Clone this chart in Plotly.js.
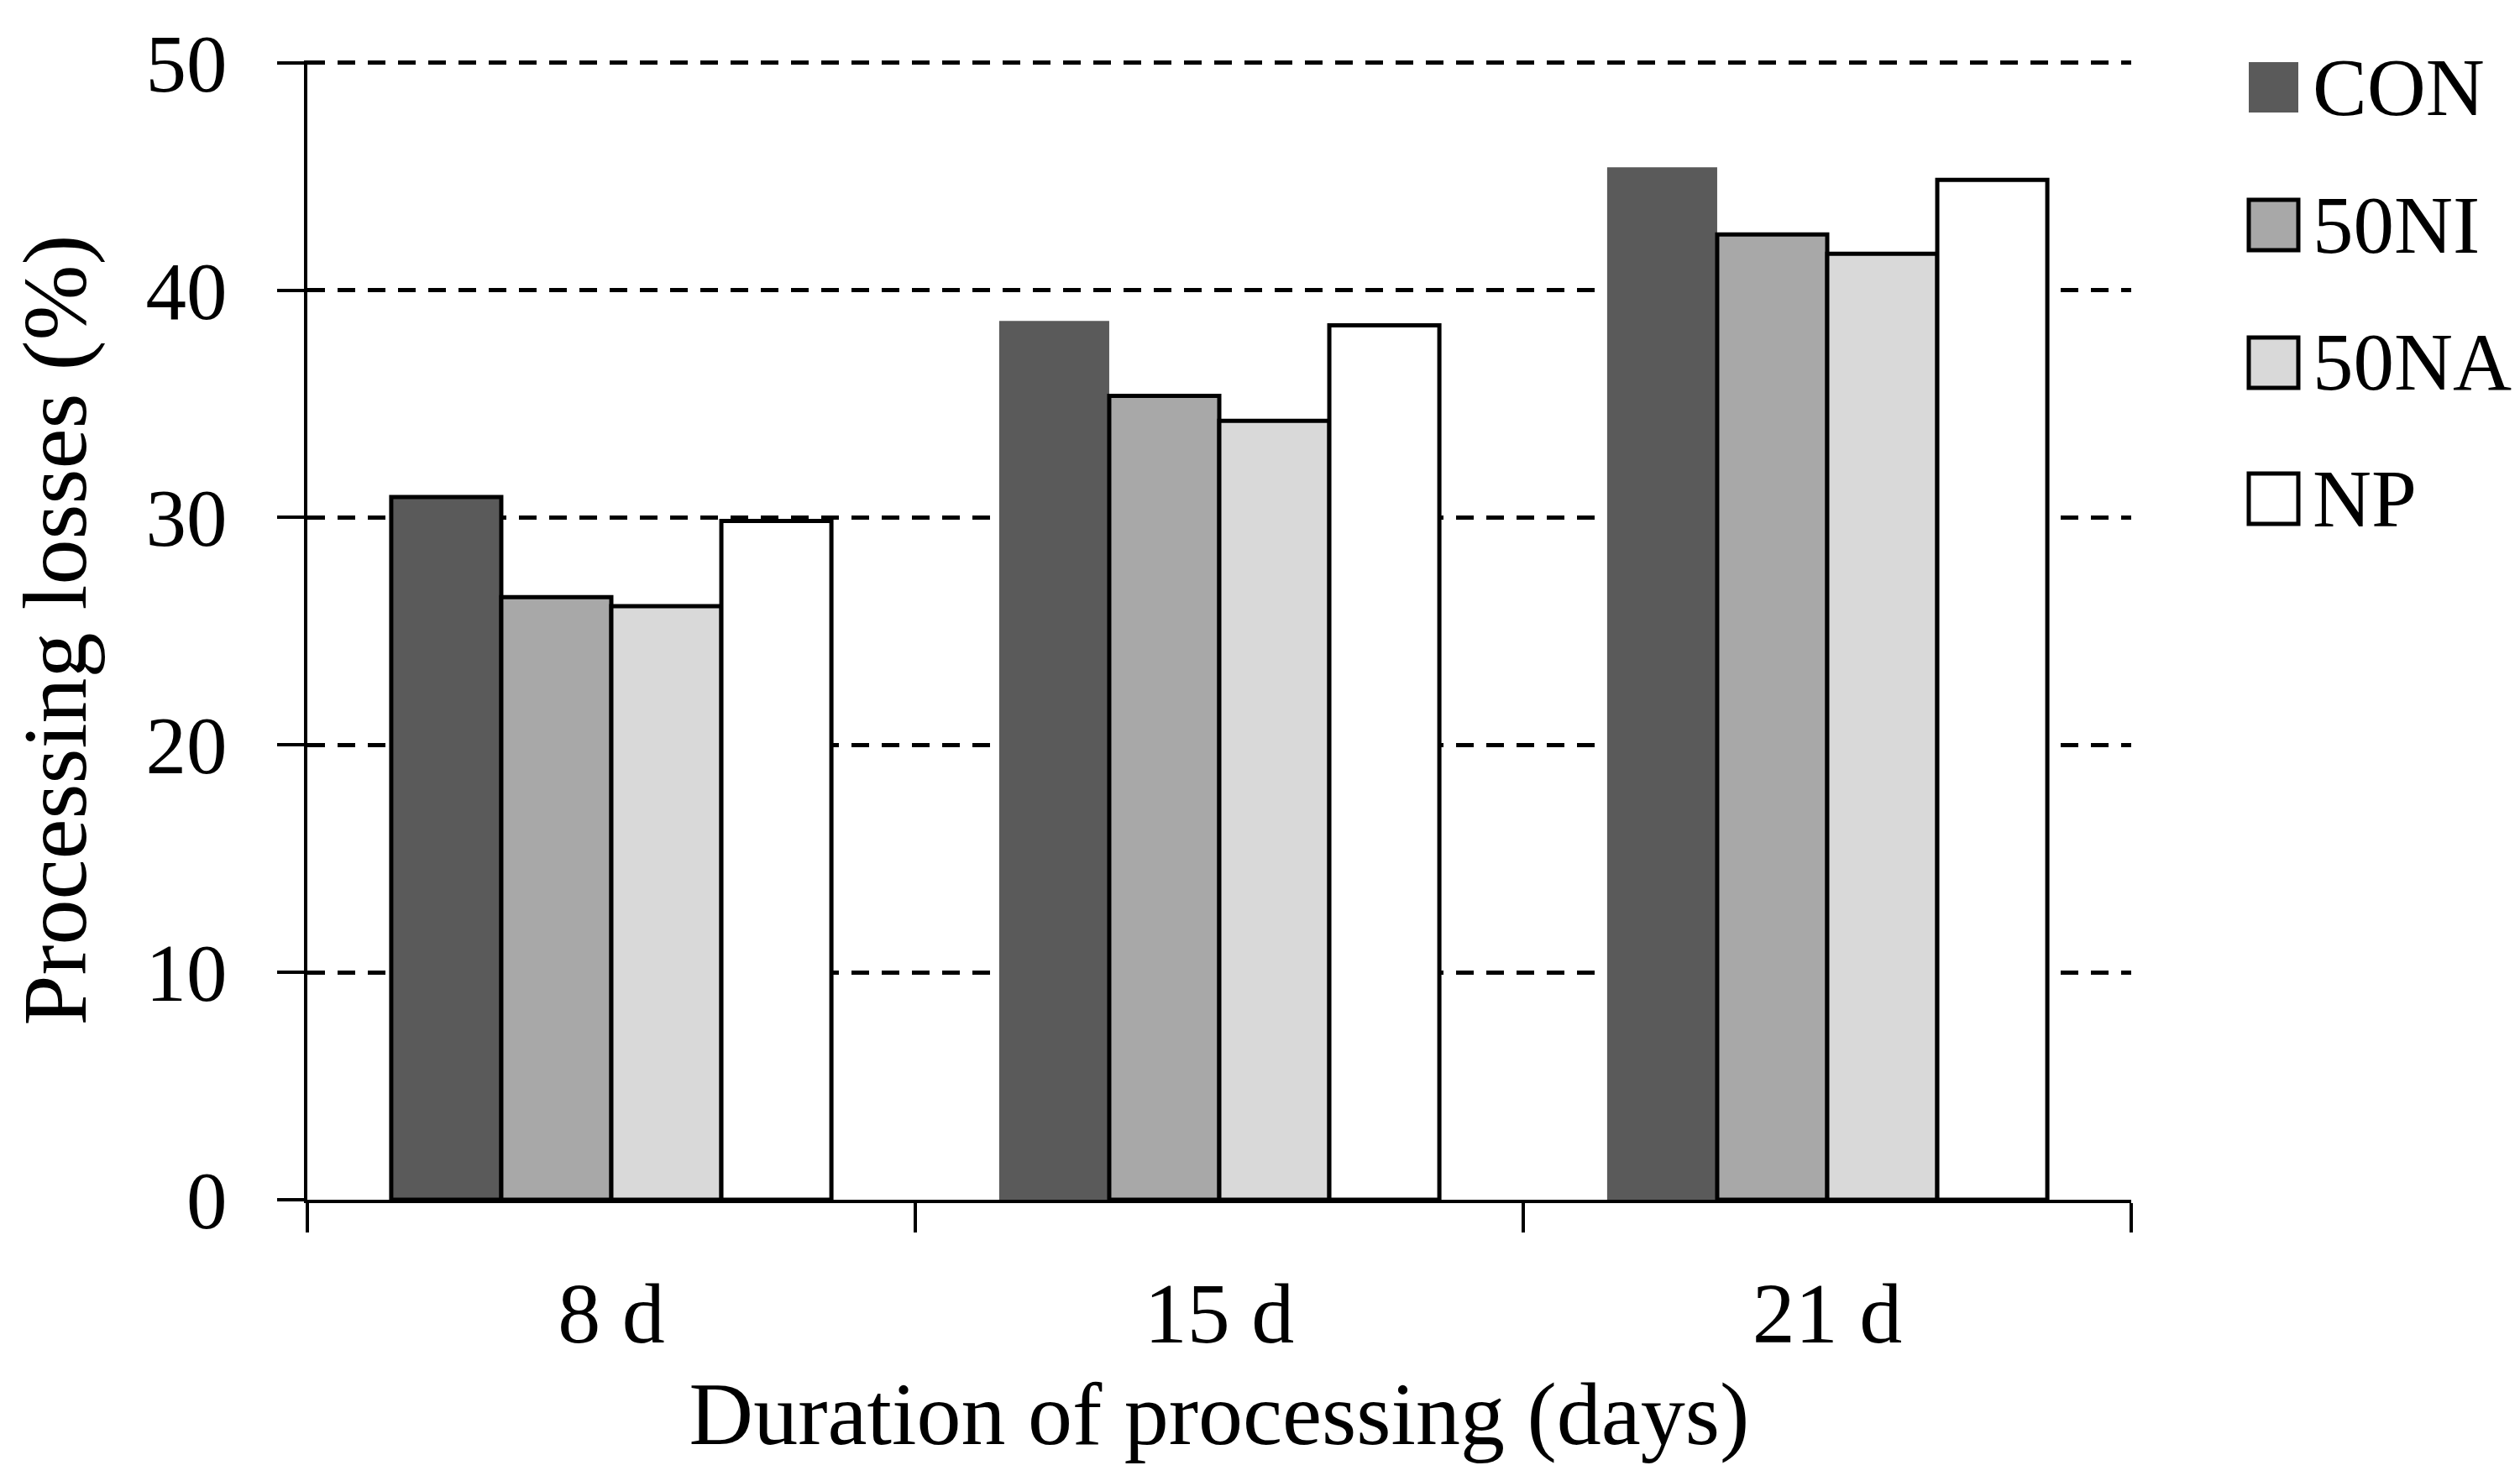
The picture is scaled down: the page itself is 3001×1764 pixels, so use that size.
<!DOCTYPE html>
<html>
<head>
<meta charset="utf-8">
<script src="https://cdn.plot.ly/plotly-3.0.1.min.js"></script>
<style>html,body{margin:0;padding:0;background:#fff;}#chart{width:3001px;height:1764px;}</style>
</head>
<body>
<div id="chart"></div>
<script>
// ---- data ----
const categories = ["8 d", "15 d", "21 d"];
const seriesNames = ["CON", "50NI", "50NA", "NP"];
const valuesCON  = [30.9, 38.65, 45.4];
const values50NI = [26.5, 35.35, 42.45];
const values50NA = [26.1, 34.25, 41.6];
const valuesNP   = [29.85, 38.45, 44.85];
const yTickVals = [0, 10, 20, 30, 40, 50];
const xTitle = "Duration of processing (days)";
const yTitle = "Processing losses (%)";

// ---- styles ----
const fills = ["#5a5a5a", "#a8a8a8", "#d9d9d9", "#ffffff"];
const outlineWidths = [[5, 0, 0], [5, 5, 5], [5, 5, 5], [5, 5, 5]];
const FONT = "Liberation Serif, Times New Roman, serif";
const W = 3001, H = 1764;
const M = {l: 366, r: 463, t: 72, b: 335};

const seriesValues = [valuesCON, values50NI, values50NA, valuesNP];
const traces = seriesNames.map((name, i) => ({
  type: "bar",
  name: name,
  x: categories,
  y: seriesValues[i],
  marker: {color: fills[i], line: {color: "#000", width: outlineWidths[i]}},
  showlegend: false,
  hoverinfo: "x+y+name"
}));

// custom legend (pixel -> paper helpers)
const pw = W - M.l - M.r, ph = H - M.t - M.b;
const px = v => (v - M.l) / pw;
const py = v => 1 - (v - M.t) / ph;
const legendRowsY = [104, 268, 432, 594];
const shapes = [], annotations = [];
seriesNames.forEach((name, i) => {
  const cy = legendRowsY[i];
  shapes.push({
    type: "rect", xref: "paper", yref: "paper",
    x0: px(2678), x1: px(2737), y0: py(cy - 30), y1: py(cy + 30),
    fillcolor: fills[i],
    line: {color: i === 0 ? fills[i] : "#000", width: i === 0 ? 0 : 5},
    layer: "above"
  });
  annotations.push({
    xref: "paper", yref: "paper", x: px(2752), y: py(cy),
    xanchor: "left", yanchor: "middle", showarrow: false,
    text: name, font: {family: FONT, size: 97, color: "#000"}
  });
});

const layout = {
  width: W, height: H,
  margin: M,
  paper_bgcolor: "#fff", plot_bgcolor: "#fff",
  font: {family: FONT, color: "#000"},
  barmode: "group",
  bargap: 0.276,
  bargroupgap: 0,
  showlegend: false,
  xaxis: {
    type: "category",
    showline: true, linecolor: "#000", linewidth: 4,
    ticks: "outside", tickson: "boundaries", ticklen: 35, tickwidth: 4, tickcolor: "#000",
    showgrid: false, zeroline: false,
    tickfont: {family: FONT, size: 102, color: "#000"},
    ticklabelstandoff: 44,
    title: {text: xTitle, font: {family: FONT, size: 106, color: "#000"}, standoff: 26}
  },
  yaxis: {
    range: [0, 50.1],
    tickvals: yTickVals,
    showline: true, linecolor: "#000", linewidth: 4,
    ticks: "outside", ticklen: 32, tickwidth: 4, tickcolor: "#000",
    showgrid: true, gridcolor: "#000", gridwidth: 5, griddash: "21px,15px",
    zeroline: false,
    tickfont: {family: FONT, size: 97, color: "#000"},
    ticklabelstandoff: 40,
    title: {text: yTitle, font: {family: FONT, size: 108, color: "#000"}, standoff: 36}
  },
  shapes: shapes,
  annotations: annotations
};

Plotly.newPlot("chart", traces, layout, {displayModeBar: false, staticPlot: true});
</script>
</body>
</html>
